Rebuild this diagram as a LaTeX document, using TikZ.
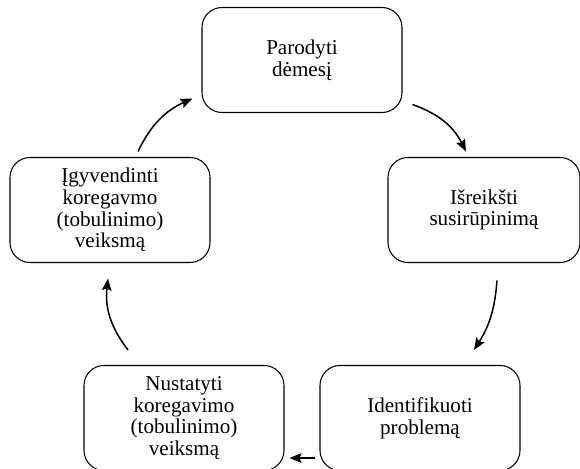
\documentclass[tikz,border=0pt]{standalone}
\usepackage{fontspec}
\setmainfont{Liberation Serif}
\usepackage{tikz}
\usetikzlibrary{arrows.meta,calc}
\tikzset{
  stage/.style={rectangle, rounded corners=0.6cm, draw, line width=0.9pt, align=center,
                minimum width=6cm, minimum height=3.15cm, inner sep=2pt,
                font=\fontsize{18}{18.5}\selectfont},
  flow/.style={-{Stealth[length=3.6mm, width=2.9mm, inset=0.6mm]}, line width=1.3pt},
}

\begin{document}
\begin{tikzpicture}[x=0.03cm, y=0.03cm]
  \useasboundingbox (0,0) rectangle (580,468);
  \node[stage] (attn) at (302,408) {Parodyti\\dėmesį};
  \node[stage, minimum width=5.76cm] (concern) at (484,258) {Išreikšti\\susirūpinimą};
  \node[stage] (ident) at (420,50) {Identifikuoti\\problemą};
  \node[stage] (plan) at (184,50) {Nustatyti\\koregavimo\\(tobulinimo)\\veiksmą};
  \node[stage] (act) at (110,258) {Įgyvendinti\\koregavmo\\(tobulinimo)\\veiksmą};
  % cycle
  \draw[flow] ($(attn.south east)+(10,8.5)$) to[bend left=22] ($(concern.north)+(-18,5.5)$);
  \draw[flow] ($(concern.south)+(13,-17.5)$) to[bend left=14] ($(ident.north)+(54,15)$);
  \draw[flow] ($(ident.south west)+(-4,13)$) -- ($(plan.south east)+(5,13)$);
  \draw[flow] ($(plan.north)+(-56,15)$) to[bend left=22] ($(act.south)+(-2,-15.5)$);
  \draw[flow] ($(act.north)+(28,5.5)$) to[bend left=20] ($(attn.south west)+(-9,14.5)$);
\end{tikzpicture}
\end{document}
